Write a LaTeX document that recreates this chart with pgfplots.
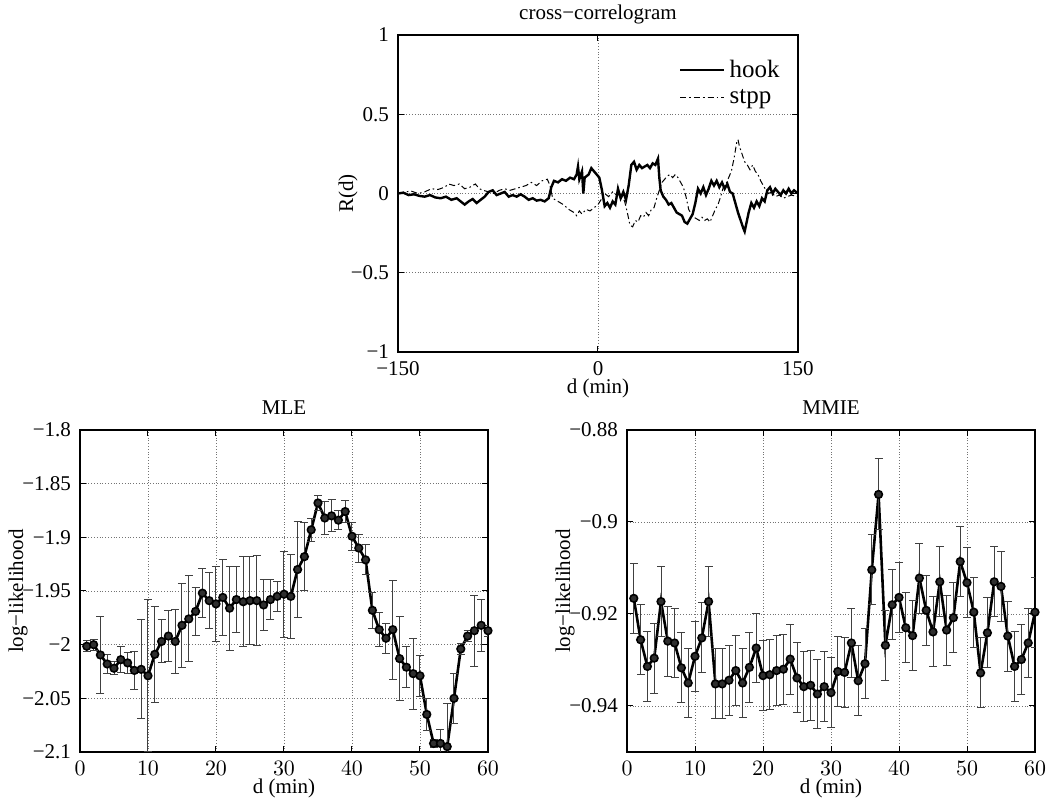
\documentclass[border=0pt]{standalone}
\usepackage{fontspec}
\setmainfont{Liberation Serif}
\usepackage{pgfplots}
\pgfplotsset{compat=1.18}
\usepackage{pgfplotstable}

\pgfplotstableread{
x y
-150 0
-146 0.005
-142 -0.01
-138 -0.005
-134 -0.015
-130 -0.02
-126 -0.01
-122 -0.025
-118 -0.03
-114 -0.02
-110 -0.04
-106 -0.03
-103 -0.05
-100 -0.07
-97 -0.05
-94 -0.035
-91 -0.06
-88 -0.04
-85 -0.02
-82 0.01
-79 0.02
-76 -0.01
-73 0.0
-70 0.01
-67 -0.02
-64 -0.01
-61 -0.02
-58 -0.005
-55 -0.02
-52 -0.04
-49 -0.03
-46 -0.045
-43 -0.04
-40 -0.05
-37 -0.03
-35 0.04
-33 0.08
-30 0.07
-27 0.09
-24 0.08
-21 0.10
-18 0.09
-16 0.12
-15 0.17
-14 0.09
-12 0.14
-11 0.0
-10 0.10
-7 0.12
-5 0.16
-3 0.14
-1 0.12
1 0.10
3 0.02
5 -0.08
7 -0.06
9 -0.09
11 -0.05
13 -0.07
15 0.03
17 -0.03
19 0.01
21 -0.04
23 0.05
25 0.18
27 0.20
29 0.15
31 0.18
33 0.16
35 0.17
37 0.18
39 0.16
41 0.19
43 0.18
45 0.22
46 0.10
47 0.02
49 -0.02
51 -0.04
53 -0.07
55 -0.06
57 -0.09
59 -0.12
61 -0.13
63 -0.14
65 -0.18
67 -0.19
69 -0.16
71 -0.13
73 -0.06
75 0.03
77 0.0
79 0.04
81 -0.01
83 0.03
85 0.08
87 0.05
89 0.08
91 0.04
93 0.07
95 0.03
97 0.06
99 0.01
101 0.0
103 -0.06
105 -0.12
107 -0.17
109 -0.22
110 -0.24
111 -0.20
113 -0.12
115 -0.06
117 -0.09
119 -0.05
121 -0.08
123 -0.03
125 -0.05
127 0.02
129 0.04
131 0.0
133 0.03
135 0.01
137 -0.01
139 0.02
141 0.0
143 0.03
145 0.0
147 0.02
150 0.0
}\hooktable

\pgfplotstableread{
x y
-150 0
-145 0.01
-140 0.015
-135 0.0
-130 0.01
-125 0.03
-120 0.025
-115 0.04
-112 0.06
-108 0.05
-104 0.06
-100 0.03
-96 0.04
-92 0.06
-89 0.03
-86 0.02
-82 0.01
-78 0.0
-74 0.02
-70 0.03
-66 0.02
-62 0.03
-58 0.04
-54 0.05
-50 0.07
-46 0.05
-42 0.08
-38 0.09
-36 0.05
-34 -0.03
-30 -0.05
-26 -0.07
-22 -0.10
-18 -0.12
-16 -0.14
-14 -0.11
-12 -0.13
-9 -0.10
-6 -0.11
-3 -0.09
0 -0.07
3 -0.03
5 0.0
8 -0.02
11 0.01
14 -0.01
17 0.0
20 -0.05
22 -0.12
24 -0.20
26 -0.21
28 -0.17
30 -0.18
32 -0.14
34 -0.15
36 -0.12
38 -0.14
40 -0.10
42 -0.09
44 -0.03
46 0.02
48 0.07
50 0.09
52 0.11
54 0.12
56 0.10
58 0.12
60 0.10
62 0.07
64 0.04
66 -0.02
68 -0.10
70 -0.13
72 -0.15
74 -0.16
76 -0.17
78 -0.15
80 -0.17
82 -0.16
84 -0.18
86 -0.14
88 -0.10
90 -0.07
92 -0.02
94 0.04
96 0.06
98 0.10
100 0.14
102 0.22
104 0.32
105 0.34
106 0.30
108 0.25
110 0.20
112 0.18
114 0.15
116 0.18
118 0.14
120 0.12
122 0.08
124 0.05
126 0.02
128 0.0
130 0.01
133 -0.02
136 -0.01
139 -0.03
142 -0.02
145 -0.01
150 -0.02
}\stpptable

\pgfplotstableread{
x y e
1 -2.0015 0.005
2 -2.000 0.005
3 -2.0096 0.036
4 -2.018 0.009
5 -2.022 0.006
6 -2.014 0.012
7 -2.017 0.010
8 -2.024 0.018
9 -2.023 0.046
10 -2.029 0.071
11 -2.009 0.045
12 -1.997 0.020
13 -1.992 0.024
14 -1.997 0.030
15 -1.982 0.039
16 -1.976 0.040
17 -1.969 0.022
18 -1.952 0.023
19 -1.959 0.026
20 -1.962 0.035
21 -1.956 0.035
22 -1.966 0.039
23 -1.958 0.031
24 -1.960 0.042
25 -1.959 0.041
26 -1.959 0.042
27 -1.963 0.024
28 -1.958 0.019
29 -1.955 0.014
30 -1.953 0.040
31 -1.955 0.039
32 -1.930 0.045
33 -1.918 0.032
34 -1.893 0.011
35 -1.868 0.007
36 -1.882 0.015
37 -1.880 0.015
38 -1.884 0.009
39 -1.876 0.010
40 -1.899 0.013
41 -1.910 0.013
42 -1.921 0.014
43 -1.968 0.017
44 -1.986 0.016
45 -1.994 0.014
46 -1.986 0.046
47 -2.013 0.039
48 -2.021 0.019
49 -2.027 0.033
50 -2.029 0.019
51 -2.065 0.015
52 -2.092 0.004
53 -2.092 0.013
54 -2.095 0.040
55 -2.050 0.023
56 -2.004 0.005
57 -1.992 0.005
58 -1.987 0.033
59 -1.982 0.024
60 -1.987 0.005
}\mletable

\pgfplotstableread{
x y e
1 -0.9166 0.0076
2 -0.9256 0.0076
3 -0.9314 0.0076
4 -0.9296 0.0076
5 -0.9173 0.0076
6 -0.9259 0.0076
7 -0.9263 0.0076
8 -0.9317 0.0076
9 -0.9350 0.0076
10 -0.9292 0.0076
11 -0.9252 0.0076
12 -0.9173 0.0076
13 -0.9352 0.0076
14 -0.9352 0.0076
15 -0.9344 0.0076
16 -0.9323 0.0076
17 -0.9350 0.0076
18 -0.9316 0.0076
19 -0.9274 0.0076
20 -0.9334 0.0076
21 -0.9332 0.0076
22 -0.9323 0.0076
23 -0.9320 0.0076
24 -0.9298 0.0076
25 -0.9339 0.0076
26 -0.9358 0.0076
27 -0.9355 0.0076
28 -0.9374 0.0076
29 -0.9358 0.0076
30 -0.9371 0.0076
31 -0.9325 0.0076
32 -0.9327 0.0076
33 -0.9263 0.0076
34 -0.9345 0.0076
35 -0.9308 0.0076
36 -0.9104 0.0076
37 -0.8940 0.0077
38 -0.9268 0.0076
39 -0.9180 0.0076
40 -0.9164 0.0076
41 -0.9230 0.0076
42 -0.9247 0.0076
43 -0.9122 0.0076
44 -0.9192 0.0076
45 -0.9239 0.0076
46 -0.9130 0.0076
47 -0.9235 0.0076
48 -0.9208 0.0076
49 -0.9086 0.0076
50 -0.9132 0.0076
51 -0.9196 0.0076
52 -0.9328 0.0076
53 -0.9241 0.0076
54 -0.9130 0.0076
55 -0.9140 0.0076
56 -0.9248 0.0076
57 -0.9314 0.0076
58 -0.9299 0.0076
59 -0.9263 0.0076
60 -0.9196 0.0076
}\mmietable

\pgfplotsset{
  mat/.style={
    scale only axis,
    anchor=south west,
    axis line style={line width=1.1pt},
    tick align=inside,
    xtick pos=both, ytick pos=both,
    major tick length=3pt,
    every tick/.style={black, line width=0.5pt},
    grid=major,
    major grid style={densely dotted, black!55, line width=0.45pt},
    tick label style={font=\fontsize{10.5}{12}\selectfont},
    every axis x label/.style={at={(axis description cs:0.5,0)}, anchor=north, yshift=-10pt, font=\fontsize{10.5}{12}\selectfont},
    every axis y label/.style={at={(axis description cs:0,0.5)}, anchor=center, rotate=90, font=\fontsize{10.5}{12}\selectfont},
    every axis title/.style={at={(axis description cs:0.5,1)}, anchor=base, yshift=7.5pt, font=\fontsize{10.5}{12}\selectfont},
    xticklabel style={yshift=-1pt},
    yticklabel style={xshift=-1pt},
  },
  errplot/.style={
    black, line width=1.3pt,
    mark=*, mark size=1.9pt,
    mark options={fill=black!82, draw=black, line width=0.8pt},
    error bars/.cd, y dir=both, y explicit,
    error bar style={black!75, line width=0.5pt},
    error mark options={black!75, mark size=2pt, line width=0.5pt, rotate=90},
  },
}

\begin{document}
\begin{tikzpicture}
\useasboundingbox (0,0) rectangle (523pt,399pt);

\begin{axis}[mat,
  at={(199pt,223pt)}, width=200pt, height=158.5pt,
  xmin=-150, xmax=150, ymin=-1, ymax=1,
  xtick={-150,0,150}, xticklabels={−150,0,150},
  ytick={-1,-0.5,0,0.5,1}, yticklabels={−1,−0.5,0,0.5,1},
  title={cross−correlogram},
  xlabel={d (min)}, ylabel={R(d)},
  ylabel style={yshift=25pt},
  legend style={at={(axis description cs:0.965,0.935)}, anchor=north east,
    draw=none, fill=none, font=\fontsize{12.5}{12.5}\selectfont,
    row sep=0.5pt, inner sep=0pt},
  legend cell align=left,
  legend image code/.code={\draw[#1, line width=0.6pt] (0pt,0pt) -- (16.5pt,0pt); \path (0pt,0pt) -- (22pt,0pt);},
]
\addplot[black, line width=1.2pt] table[x=x,y=y] {\hooktable};
\addlegendentry{hook}
\addplot[black, line width=0.5pt, dash pattern=on 3pt off 1.5pt on 0.8pt off 1.5pt] table[x=x,y=y] {\stpptable};
\addlegendentry{stpp}
\end{axis}

\begin{axis}[mat,
  at={(40pt,23pt)}, width=204pt, height=161pt,
  xmin=0, xmax=60, ymin=-2.1, ymax=-1.8,
  xtick={0,10,20,30,40,50,60},
  ytick={-2.1,-2.05,-2,-1.95,-1.9,-1.85,-1.8},
  yticklabels={−2.1,−2.05,−2,−1.95,−1.9,−1.85,−1.8},
  title={MLE}, xlabel={d (min)}, ylabel={log−likelihood},
  ylabel style={yshift=31pt},
]
\addplot[errplot] table[x=x,y=y,y error=e] {\mletable};
\end{axis}

\begin{axis}[mat,
  at={(313.5pt,23pt)}, width=204pt, height=161pt,
  xmin=0, xmax=60, ymin=-0.95, ymax=-0.88,
  xtick={0,10,20,30,40,50,60},
  ytick={-0.94,-0.92,-0.9,-0.88},
  yticklabels={−0.94,−0.92,−0.9,−0.88},
  title={MMIE}, xlabel={d (min)}, ylabel={log−likelihood},
  ylabel style={yshift=31pt},
]
\addplot[errplot] table[x=x,y=y,y error=e] {\mmietable};
\end{axis}
\end{tikzpicture}
\end{document}
